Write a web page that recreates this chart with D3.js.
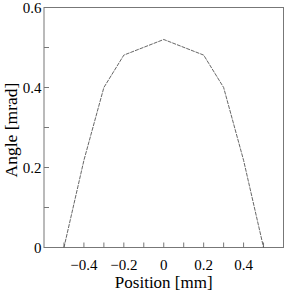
<!DOCTYPE html>
<html>
<head>
<meta charset="utf-8">
<script src="https://cdn.jsdelivr.net/npm/d3@7"></script>
<style>
  body { margin: 0; background: #fff; }
  text { font-family: "Liberation Serif", "Times New Roman", serif; fill: #000; }
</style>
</head>
<body>
<svg id="chart"></svg>
<script>
// data
const positions = [-0.5, -0.4, -0.3, -0.2, 0, 0.2, 0.3, 0.4, 0.5];
const angles = [0, 0.218, 0.4, 0.481, 0.52, 0.481, 0.4, 0.218, 0];
const xTicks = [-0.4, -0.2, 0, 0.2, 0.4];
const yTicks = [0, 0.2, 0.4, 0.6];

const w = 291, h = 292;
const pLeft = 44, pRight = 283.5, pTop = 7.5, pBottom = 247.5;

const svg = d3.select("#chart").attr("width", w).attr("height", h);

const x = d3.scaleLinear().domain([-0.6, 0.6]).range([pLeft, pRight]);
const y = d3.scaleLinear().domain([0, 0.6]).range([pBottom, pTop]);

const axisColor = "#777";

// frame
svg.append("rect")
  .attr("x", pLeft).attr("y", pTop)
  .attr("width", pRight - pLeft).attr("height", pBottom - pTop)
  .attr("fill", "none").attr("stroke", axisColor).attr("stroke-width", 1);

// ticks every 0.1, pointing inward
const xMinor = d3.range(-0.5, 0.55, 0.1);
svg.append("g").selectAll("line")
  .data(xMinor)
  .join("line")
  .attr("x1", d => x(d)).attr("x2", d => x(d))
  .attr("y1", pBottom).attr("y2", pBottom - 5)
  .attr("stroke", axisColor);

const yMinor = d3.range(0.1, 0.55, 0.1);
svg.append("g").selectAll("line")
  .data(yMinor)
  .join("line")
  .attr("x1", pLeft).attr("x2", pLeft + 5)
  .attr("y1", d => y(d)).attr("y2", d => y(d))
  .attr("stroke", axisColor);

// tick labels
svg.append("g").selectAll("text")
  .data(xTicks)
  .join("text")
  .attr("x", d => x(d))
  .attr("y", 269.5)
  .attr("text-anchor", "middle")
  .attr("font-size", 15)
  .text(d => d3.format("")(d));

svg.append("g").selectAll("text")
  .data(yTicks)
  .join("text")
  .attr("x", pLeft - 2.5)
  .attr("y", d => y(d) + 5)
  .attr("text-anchor", "end")
  .attr("font-size", 15)
  .text(d => d3.format("")(d));

// axis titles
svg.append("text")
  .attr("x", (pLeft + pRight) / 2)
  .attr("y", 288)
  .attr("text-anchor", "middle")
  .attr("font-size", 17)
  .text("Position [mm]");

svg.append("text")
  .attr("transform", "translate(17,130) rotate(-90)")
  .attr("text-anchor", "middle")
  .attr("font-size", 17.5)
  .text("Angle [mrad]");

// the curve
const line = d3.line()
  .x((d, i) => x(positions[i]))
  .y(d => y(d));

svg.append("path")
  .datum(angles)
  .attr("d", line)
  .attr("fill", "none")
  .attr("stroke", "#555")
  .attr("stroke-width", 0.9)
  .attr("stroke-dasharray", "4,1");
</script>
</body>
</html>
